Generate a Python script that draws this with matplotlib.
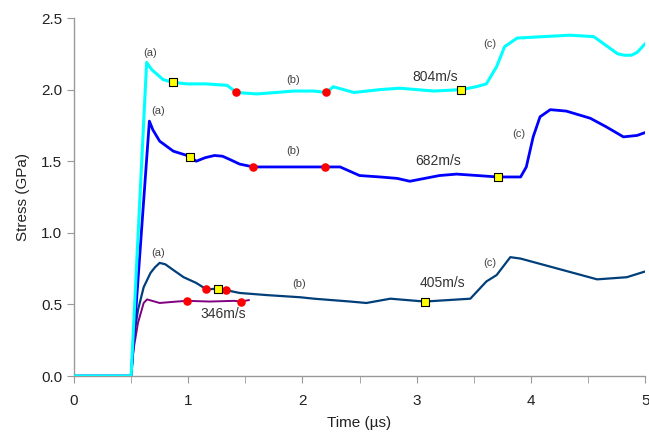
import matplotlib
matplotlib.use("Agg")
import matplotlib.pyplot as plt

plt.rcParams['font.family'] = ['Liberation Sans', 'DejaVu Sans']

# ---- data ----
t_804 = [0, 0.50, 0.636, 0.68, 0.78, 0.87, 0.99, 1.15, 1.34, 1.39, 1.42, 1.60, 1.77, 1.92, 2.10, 2.21,
         2.27, 2.45, 2.68, 2.85, 3.15, 3.39, 3.52, 3.61, 3.70, 3.77, 3.88, 4.11, 4.34, 4.55, 4.62,
         4.69, 4.76, 4.82, 4.88, 4.93, 5.0]
s_804 = [0, 0, 2.19, 2.14, 2.07, 2.05, 2.04, 2.04, 2.03, 2.00, 1.98, 1.97, 1.98, 1.99, 1.99, 1.98,
         2.02, 1.98, 2.00, 2.01, 1.99, 2.00, 2.02, 2.04, 2.16, 2.30, 2.36, 2.37, 2.38, 2.37, 2.33,
         2.29, 2.25, 2.24, 2.24, 2.26, 2.32]

t_682 = [0, 0.50, 0.66, 0.69, 0.75, 0.87, 0.99, 1.02, 1.07, 1.15, 1.23, 1.30, 1.37, 1.45, 1.57, 1.77,
         2.04, 2.20, 2.33, 2.50, 2.68, 2.83, 2.94, 3.20, 3.35, 3.71, 3.91, 3.96, 4.02, 4.08, 4.17,
         4.31, 4.52, 4.66, 4.81, 4.93, 5.0]
s_682 = [0, 0, 1.78, 1.72, 1.64, 1.57, 1.54, 1.53, 1.50, 1.525, 1.54, 1.535, 1.51, 1.48, 1.46, 1.46,
         1.46, 1.46, 1.46, 1.40, 1.39, 1.38, 1.36, 1.40, 1.41, 1.39, 1.39, 1.46, 1.67, 1.81, 1.86,
         1.85, 1.80, 1.74, 1.67, 1.68, 1.70]

t_405 = [0, 0.50, 0.53, 0.56, 0.61, 0.67, 0.71, 0.75, 0.80, 0.87, 0.96, 1.07, 1.16, 1.26, 1.33,
         1.45, 1.69, 1.98, 2.10, 2.42, 2.56, 2.77, 3.07, 3.47, 3.61, 3.70, 3.82, 3.91, 4.28, 4.58,
         4.84, 5.0]
s_405 = [0, 0, 0.30, 0.46, 0.62, 0.72, 0.76, 0.79, 0.78, 0.74, 0.69, 0.65, 0.605, 0.61, 0.60,
         0.58, 0.565, 0.55, 0.54, 0.52, 0.51, 0.54, 0.52, 0.54, 0.66, 0.705, 0.83, 0.82, 0.74, 0.675,
         0.69, 0.73]

t_346 = [0, 0.50, 0.52, 0.56, 0.61, 0.64, 0.75, 0.90, 0.99, 1.19, 1.40, 1.46, 1.53]
s_346 = [0, 0, 0.18, 0.37, 0.51, 0.535, 0.51, 0.52, 0.525, 0.52, 0.525, 0.52, 0.53]

# marker points
dots_t = [1.42, 2.21, 1.57, 2.20, 1.16, 1.33, 0.99, 1.46]
dots_s = [1.98, 1.98, 1.46, 1.46, 0.605, 0.60, 0.525, 0.52]
sq_t = [0.87, 3.39, 1.02, 3.71, 1.26, 3.07]
sq_s = [2.05, 2.00, 1.53, 1.39, 0.61, 0.52]

# annotations
letters = ['(a)', '(a)', '(a)', '(b)', '(b)', '(b)', '(c)', '(c)', '(c)']
letters_t = [0.665, 0.74, 0.74, 1.92, 1.92, 1.97, 3.64, 3.89, 3.64]
letters_s = [2.255, 1.85, 0.86, 2.07, 1.57, 0.64, 2.32, 1.69, 0.79]
vel_labels = ['804m/s', '682m/s', '405m/s', '346m/s']
vel_t = [3.16, 3.19, 3.23, 1.31]
vel_s = [2.09, 1.50, 0.65, 0.43]

fig = plt.figure(figsize=(6.49, 4.33), dpi=100)
ax = fig.add_axes([0.114, 0.1316, 0.880, 0.8268])

ax.plot(t_405, s_405, color='#003f7a', lw=1.6, zorder=2)
ax.plot(t_346, s_346, color='#800080', lw=1.4, zorder=2)
ax.plot(t_682, s_682, color='#0000ff', lw=2.0, zorder=3)
ax.plot(t_804, s_804, color='#00ffff', lw=2.2, zorder=4)

ax.scatter(dots_t, dots_s, s=38, color='#ff0000', zorder=6, linewidths=0)
ax.scatter(sq_t, sq_s, s=30, marker='s', color='#ffff00', edgecolors='black', linewidths=0.8, zorder=7)

for lab, x, y in zip(letters, letters_t, letters_s):
    ax.text(x, y, lab, fontsize=8, color='#444444', ha='center', va='center')
for lab, x, y in zip(vel_labels, vel_t, vel_s):
    ax.text(x, y, lab, fontsize=10, color='#333333', ha='center', va='center')

ax.set_xlim(0, 5)
ax.set_ylim(0, 2.5)
ax.set_xticks([0, 1, 2, 3, 4, 5])
ax.set_xticks([0.5, 1.5, 2.5, 3.5, 4.5], minor=True)
ax.set_yticks([0, 0.5, 1.0, 1.5, 2.0, 2.5])
ax.set_yticklabels(['0.0', '0.5', '1.0', '1.5', '2.0', '2.5'])
for s in ['top', 'right']:
    ax.spines[s].set_visible(False)
for s in ['left', 'bottom']:
    ax.spines[s].set_color('#999999')
    ax.spines[s].set_linewidth(1.0)
ax.tick_params(axis='both', which='both', direction='out', length=5, color='#999999',
               labelsize=11, labelcolor='#222222')
ax.tick_params(axis='x', pad=8)
ax.set_xlabel('Time (\u00b5s)', fontsize=11, color='#222222', labelpad=6)
ax.set_ylabel('Stress (GPa)', fontsize=11, color='#222222', labelpad=8)

fig.savefig('out.png', dpi=100)
